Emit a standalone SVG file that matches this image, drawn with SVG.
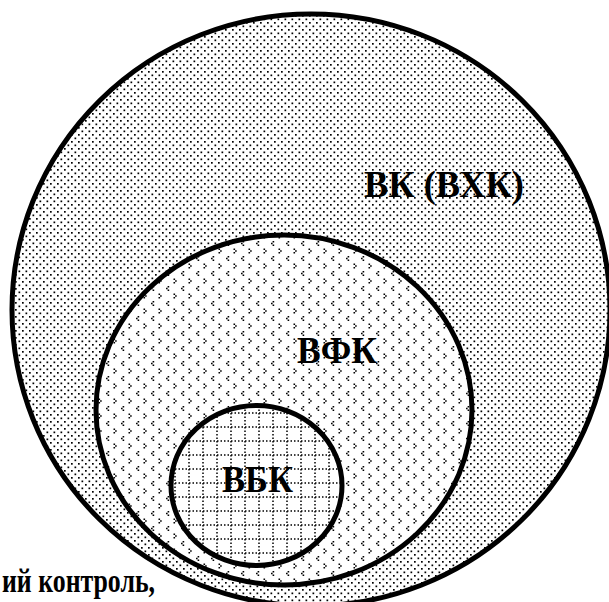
<svg xmlns="http://www.w3.org/2000/svg" width="609" height="602" viewBox="0 0 609 602">
  <defs>
    <pattern id="dots" width="7" height="7" patternUnits="userSpaceOnUse">
      <rect width="7" height="7" fill="#fff"/>
      <rect x="1" y="1" width="1.7" height="1.7" fill="#000"/>
      <rect x="4.5" y="4.5" width="1.7" height="1.7" fill="#000"/>
    </pattern>
    <pattern id="chev" width="15" height="15" patternUnits="userSpaceOnUse">
      <rect width="15" height="15" fill="#fff"/>
      <path d="M2.6,1h1.6v1.6h-1.6z M1,2.7h1.6v1.6h-1.6z M2.6,4.4h1.6v1.6h-1.6z" fill="#000"/>
      <path d="M8.5,8.5h1.6v1.6h-1.6z M10.1,10.2h1.6v1.6h-1.6z M8.5,11.9h1.6v1.6h-1.6z" fill="#000"/>
    </pattern>
    <pattern id="grid" width="14" height="14" patternUnits="userSpaceOnUse">
      <rect width="14" height="14" fill="#fff"/>
      <path d="M7,0V14 M0,7H14" stroke="#000" stroke-width="1.5" stroke-dasharray="1.5 2" fill="none"/>
    </pattern>
    <style>
      .ring { stroke: #000; stroke-width: 5; }
      .lbl { font-family: "Liberation Serif", "Times New Roman", serif; font-weight: bold; font-size: 36px; fill: #000; }
    </style>
  </defs>

  <g id="vk">
    <ellipse class="ring" cx="311" cy="310" rx="299" ry="296" fill="url(#dots)"/>
    <text class="lbl" x="364" y="197" textLength="160" lengthAdjust="spacingAndGlyphs" style="font-size:37px">ВК (ВХК)</text>
  </g>

  <g id="vfk">
    <ellipse class="ring" cx="284" cy="410" rx="188" ry="175" fill="url(#chev)"/>
    <text class="lbl" x="297" y="363" textLength="80" lengthAdjust="spacingAndGlyphs" style="font-size:37px">ВФК</text>
  </g>

  <g id="vbk">
    <ellipse class="ring" cx="256.5" cy="485.5" rx="85.5" ry="80" fill="url(#grid)"/>
    <text class="lbl" x="222" y="492" textLength="71" lengthAdjust="spacingAndGlyphs" style="font-size:37px">ВБК</text>
  </g>

  <g id="caption">
    <text class="lbl" x="2" y="592" textLength="153" lengthAdjust="spacingAndGlyphs" style="font-size:34px">ий контроль,</text>
  </g>
</svg>
